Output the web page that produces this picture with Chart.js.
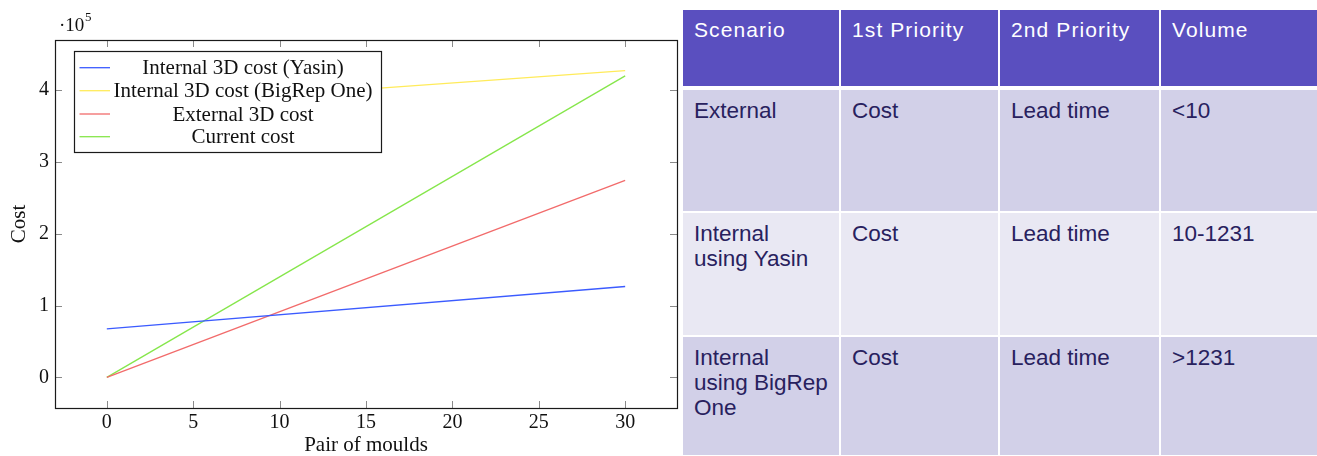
<!DOCTYPE html>
<html><head><meta charset="utf-8">
<script src="https://cdn.jsdelivr.net/npm/chart.js@4.4.1/dist/chart.umd.min.js"></script>
<style>
html,body{margin:0;padding:0;background:#fff;width:1317px;height:456px;overflow:hidden;}
#chartBox{position:absolute;left:0;top:0;width:680px;height:456px;}
#tbl{position:absolute;left:683px;top:10px;width:634px;height:446px;display:grid;grid-template-columns:156px 157px 159px 156px;grid-template-rows:80px 123px 124px 120px;column-gap:2px;row-gap:0;font-family:"Liberation Sans",Arial,sans-serif;overflow:hidden;}
.c{box-sizing:border-box;padding:8px 4px 0 11px;font-size:22.5px;line-height:25px;color:#28215e;border-bottom:2px solid #fff;white-space:nowrap;}
.h{background:#5a4fbf;color:#fff;font-size:21px;letter-spacing:1.1px;padding-top:8px;line-height:23px;border-bottom:4px solid #fff;}
.r1{background:#d2d0e8;}
.r2{background:#e9e8f3;}
</style>
</head><body>
<div id="chartBox"><canvas id="c" width="680" height="456"></canvas></div>
<div id="tbl"></div>
<script>
// ---- data ----
const xValues = [0, 30];
const yasinCost = [67400, 126500];
const bigrepCost = [375500, 427000];
const externalCost = [0, 274300];
const currentCost = [0, 419800];
const seriesLabels = ['Internal 3D cost (Yasin)', 'Internal 3D cost (BigRep One)', 'External 3D cost', 'Current cost'];
const seriesColors = ['#3b5bff', '#ffeb5a', '#f26b6b', '#86e64b'];
const xTicks = [0, 5, 10, 15, 20, 25, 30];
const yTicks = [0, 100000, 200000, 300000, 400000];
const yTickLabels = ['0', '1', '2', '3', '4'];
const xTitle = 'Pair of moulds';
const yTitle = 'Cost';

const tableHeaders = ['Scenario', '1st Priority', '2nd Priority', 'Volume'];
const tableRows = [
  [['External'], ['Cost'], ['Lead time'], ['<10']],
  [['Internal', 'using Yasin'], ['Cost'], ['Lead time'], ['10-1231']],
  [['Internal', 'using BigRep', 'One'], ['Cost'], ['Lead time'], ['>1231']]
];

// ---- table ----
const tbl = document.getElementById('tbl');
tableHeaders.forEach(h => { const d = document.createElement('div'); d.className = 'c h'; d.textContent = h; tbl.appendChild(d); });
tableRows.forEach((r, i) => r.forEach(lines => {
  const d = document.createElement('div'); d.className = 'c ' + (i % 2 === 0 ? 'r1' : 'r2');
  lines.forEach((t, k) => { if (k) d.appendChild(document.createElement('br')); d.appendChild(document.createTextNode(t)); });
  tbl.appendChild(d);
}));

// ---- chart ----
const series = [yasinCost, bigrepCost, externalCost, currentCost];
const serif = '"Liberation Serif", "Times New Roman", serif';

const framePlugin = {
  id: 'frame',
  afterDatasetsDraw(chart) {
    const ctx = chart.ctx, a = chart.chartArea, xs = chart.scales.x, ys = chart.scales.y;
    ctx.save();
    ctx.strokeStyle = '#8a8a8a'; ctx.lineWidth = 1;
    const tl = 7;
    ctx.beginPath();
    xTicks.forEach(v => { const px = Math.round(xs.getPixelForValue(v)) + 0.5;
      ctx.moveTo(px, a.bottom); ctx.lineTo(px, a.bottom - tl);
      ctx.moveTo(px, a.top); ctx.lineTo(px, a.top + tl); });
    yTicks.forEach(v => { const py = Math.round(ys.getPixelForValue(v)) + 0.5;
      ctx.moveTo(a.left, py); ctx.lineTo(a.left + tl, py);
      ctx.moveTo(a.right, py); ctx.lineTo(a.right - tl, py); });
    ctx.stroke();
    ctx.strokeStyle = '#1a1a1a'; ctx.lineWidth = 1.2;
    ctx.strokeRect(Math.round(a.left) + 0.5, Math.round(a.top) + 0.5, Math.round(a.right - a.left), Math.round(a.bottom - a.top));
    // legend
    const lx = 74.5, ly = 51.5, lw = 307, lh = 101;
    ctx.fillStyle = '#fff'; ctx.fillRect(lx, ly, lw, lh);
    ctx.strokeStyle = '#1a1a1a'; ctx.lineWidth = 1.2; ctx.strokeRect(lx, ly, lw, lh);
    const rowY = [67.7, 90.7, 114, 136.7];
    ctx.font = '21px ' + serif; ctx.textAlign = 'center'; ctx.textBaseline = 'middle';
    chart.data.datasets.forEach((ds, i) => {
      ctx.strokeStyle = ds.borderColor; ctx.lineWidth = 1.3;
      ctx.beginPath(); ctx.moveTo(79.5, rowY[i]); ctx.lineTo(110, rowY[i]); ctx.stroke();
      ctx.fillStyle = '#111'; ctx.fillText(ds.label, 243, rowY[i] + 1);
    });
    // exponent
    ctx.textAlign = 'left'; ctx.textBaseline = 'alphabetic'; ctx.fillStyle = '#111';
    ctx.font = '19px ' + serif; ctx.fillText('·10', 59, 31);
    ctx.font = '13px ' + serif; ctx.fillText('5', 85, 21);
    ctx.restore();
  }
};

new Chart(document.getElementById('c'), {
  type: 'line',
  data: {
    datasets: series.map((s, i) => ({
      label: seriesLabels[i],
      data: xValues.map((x, j) => ({ x: x, y: s[j] })),
      borderColor: seriesColors[i],
      backgroundColor: seriesColors[i],
      borderWidth: 1.3,
      pointRadius: 0,
      tension: 0,
      fill: false
    }))
  },
  options: {
    responsive: false,
    animation: false,
    layout: { padding: { left: 0, top: 40, right: 3, bottom: 0 } },
    plugins: { legend: { display: false }, tooltip: { enabled: false } },
    scales: {
      x: {
        type: 'linear', min: -3, max: 33,
        afterBuildTicks: s => { s.ticks = xTicks.map(v => ({ value: v })); },
        afterFit: s => { s.height = 48; },
        grid: { display: false, drawTicks: false },
        border: { display: false },
        ticks: { padding: 3, color: '#111', font: { family: serif, size: 20 }, callback: v => String(v) },
        title: { display: true, text: xTitle, color: '#111', font: { family: serif, size: 21, lineHeight: 1 }, padding: { top: 0, bottom: 0 } }
      },
      y: {
        type: 'linear', min: -42700, max: 469700,
        afterBuildTicks: s => { s.ticks = yTicks.map(v => ({ value: v })); },
        afterFit: s => { s.width = 55; },
        grid: { display: false, drawTicks: false },
        border: { display: false },
        ticks: { padding: 6, color: '#111', font: { family: serif, size: 20 }, callback: v => yTickLabels[yTicks.indexOf(v)] },
        title: { display: true, text: yTitle, color: '#111', font: { family: serif, size: 21, lineHeight: 1 }, padding: { top: 9, bottom: 0 } }
      }
    }
  },
  plugins: [framePlugin]
});
</script>
</body></html>
